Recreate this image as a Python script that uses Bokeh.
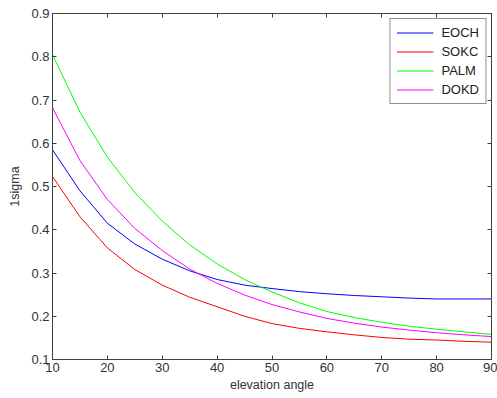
from bokeh.plotting import figure
from bokeh.models import LinearAxis, Range1d, Legend, LegendItem, FixedTicker, CustomJSTickFormatter
from bokeh.embed import file_html
from bokeh.resources import INLINE

angle = [10, 15, 20, 25, 30, 35, 40, 45, 50, 55, 60, 65, 70, 75, 80, 85, 90]
eoch = [0.585, 0.490, 0.415, 0.367, 0.332, 0.305, 0.285, 0.272, 0.264, 0.257, 0.252, 0.248, 0.245, 0.242, 0.240, 0.240, 0.240]
sokc = [0.523, 0.430, 0.358, 0.308, 0.272, 0.244, 0.222, 0.200, 0.183, 0.172, 0.164, 0.157, 0.151, 0.147, 0.145, 0.142, 0.140]
palm = [0.805, 0.672, 0.568, 0.486, 0.420, 0.365, 0.321, 0.285, 0.256, 0.231, 0.211, 0.197, 0.186, 0.177, 0.170, 0.164, 0.158]
dokd = [0.682, 0.560, 0.470, 0.403, 0.352, 0.309, 0.276, 0.249, 0.227, 0.210, 0.195, 0.184, 0.175, 0.168, 0.162, 0.157, 0.153]

names = ["EOCH", "SOKC", "PALM", "DOKD"]
series = [eoch, sokc, palm, dokd]
colors = ["#0000ff", "#ff0000", "#00ff00", "#ff00ff"]

x_ticks = [10, 20, 30, 40, 50, 60, 70, 80, 90]
y_ticks = [0.1, 0.2, 0.3, 0.4, 0.5, 0.6, 0.7, 0.8, 0.9]

axis_col = "#404040"
font = "Liberation Sans"

p = figure(width=497, height=398, output_backend="svg", toolbar_location=None,
           x_range=Range1d(10, 90), y_range=Range1d(0.1, 0.9),
           min_border_left=52, min_border_top=13, min_border_right=6, min_border_bottom=39)
p.xgrid.visible = False
p.ygrid.visible = False
p.outline_line_color = axis_col
p.outline_line_alpha = 1.0
p.background_fill_color = "white"

def style(ax, labels=True):
    ax.axis_line_color = axis_col
    ax.major_tick_line_color = axis_col
    ax.minor_tick_line_color = None
    ax.major_tick_in = 4
    ax.major_tick_out = 0
    ax.major_label_text_color = "#333333"
    ax.major_label_text_font = font
    ax.major_label_text_font_size = "13px"
    ax.axis_label_text_color = "#333333"
    ax.axis_label_text_font = font
    ax.axis_label_text_font_size = "12.5px"
    ax.axis_label_text_font_style = "normal"
    if not labels:
        ax.formatter = CustomJSTickFormatter(code="return ''")
        ax.major_label_standoff = 0

p.xaxis.ticker = FixedTicker(ticks=x_ticks)
p.yaxis.ticker = FixedTicker(ticks=y_ticks)
p.xaxis.axis_label = "elevation angle"
p.yaxis.axis_label = "1sigma"
style(p.xaxis[0])
style(p.yaxis[0])
p.xaxis.major_label_standoff = 3
p.xaxis.axis_label_standoff = 3
p.yaxis.major_label_standoff = 3
p.yaxis.axis_label_standoff = 6

top = LinearAxis(ticker=FixedTicker(ticks=x_ticks))
style(top, labels=False)
right = LinearAxis(ticker=FixedTicker(ticks=y_ticks))
style(right, labels=False)
p.add_layout(top, "above")
p.add_layout(right, "right")

items = []
for name, ys, c in zip(names, series, colors):
    r = p.line(angle, ys, line_color=c, line_width=1)
    items.append(LegendItem(label=name, renderers=[r]))

legend = Legend(items=items, location="top_right")
legend.border_line_color = "#222222"
legend.border_line_width = 1
legend.label_text_font = font
legend.label_text_font_size = "13px"
legend.label_text_color = "#222222"
legend.glyph_width = 37
legend.glyph_height = 15
legend.label_height = 15
legend.spacing = 4
legend.padding = 6
legend.margin = 5
legend.label_standoff = 8
p.add_layout(legend)

open("out.html", "w").write(file_html(p, INLINE))
